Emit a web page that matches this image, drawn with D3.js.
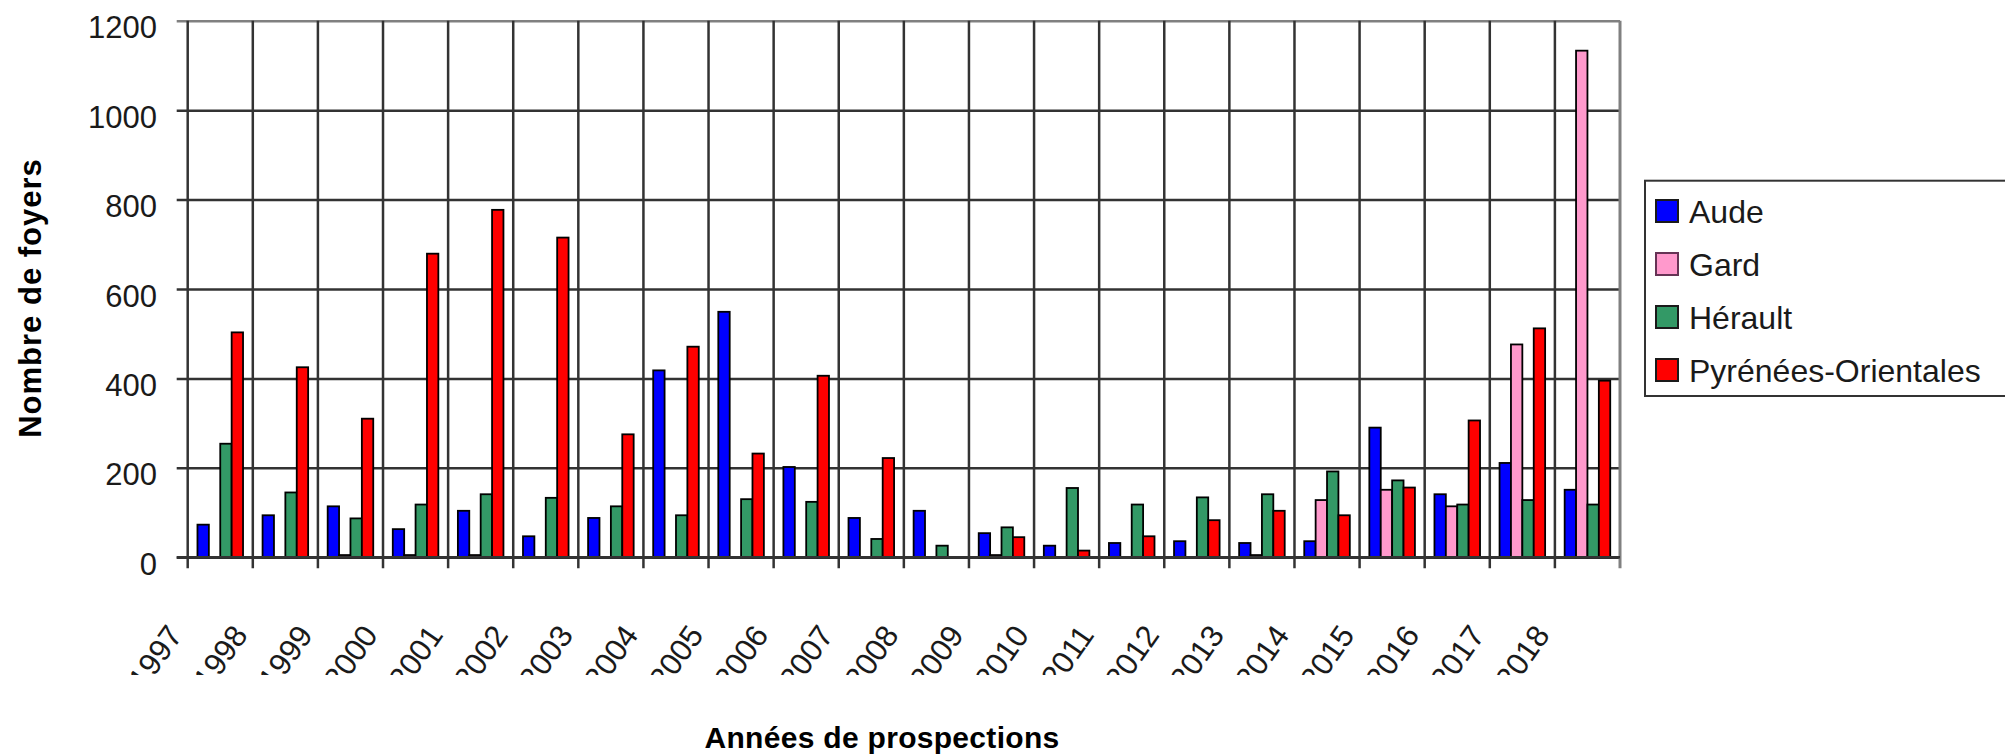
<!DOCTYPE html>
<html>
<head>
<meta charset="utf-8">
<script src="https://cdn.jsdelivr.net/npm/d3@7"></script>
<style>
    body { margin: 0; background: #ffffff; }
    svg { display: block; font-family: 'Liberation Sans', Arial, sans-serif; }
</style>
</head>
<body>
<svg id="chart" width="2005" height="755"></svg>
<script>
const years = ['1997', '1998', '1999', '2000', '2001', '2002', '2003', '2004', '2005', '2006', '2007',
    '2008', '2009', '2010', '2011', '2012', '2013', '2014', '2015', '2016', '2017', '2018'];
const seriesNames = ['Aude', 'Gard', 'Hérault', 'Pyrénées-Orientales'];
const aude = [73, 94, 114, 63, 104, 47, 88, 418, 549, 202, 88, 104, 54, 26, 32, 36, 32, 36, 290, 141, 211, 151];
const gard = [0, 0, 5, 5, 5, 0, 0, 0, 0, 0, 0, 0, 5, 0, 0, 0, 5, 128, 151, 114, 476, 1133];
const herault = [254, 145, 87, 118, 141, 133, 114, 94, 130, 124, 41, 26, 67, 155, 118, 134, 141, 192, 172, 118, 128, 118];
const pyreneesOrientales = [503, 425, 310, 679, 777, 715, 275, 471, 232, 406, 222, 0, 45, 15, 47, 83, 104, 94, 156, 306, 512, 395];
const yTicks = [0, 200, 400, 600, 800, 1000, 1200];
const seriesColors = ['#0000ff', '#ff99cc', '#339966', '#ff0000'];
const xTitle = 'Années de prospections';
const yTitle = 'Nombre de foyers';

(function () {
    'use strict';

    let plot = { left: 187.7, right: 1620, top: 20.7, bottom: 557.3 };
    let svg = d3.select('#chart');
    let seriesValues = [aude, gard, herault, pyreneesOrientales];

    let x0 = d3.scaleBand()
        .domain(years)
        .range([plot.left, plot.right])
        .padding(0);
    let bw = x0.bandwidth();
    let x1 = d3.scaleBand()
        .domain(seriesNames)
        .range([bw * 0.15, bw * 0.85])
        .padding(0);
    let y = d3.scaleLinear()
        .domain([0, 1200])
        .range([plot.bottom, plot.top]);
    let color = d3.scaleOrdinal()
        .domain(seriesNames)
        .range(seriesColors);

    // horizontal grid + y labels
    let yAxis = d3.axisLeft(y)
        .tickValues(yTicks)
        .tickFormat(d3.format('d'))
        .tickSize(-(plot.right - plot.left + 11))
        .tickPadding(19.7);
    let yg = svg.append('g')
        .attr('transform', 'translate(' + (plot.left - 11) + ',0)')
        .call(yAxis);
    yg.select('.domain').remove();
    yg.selectAll('.tick line')
        .attr('stroke', function (d) { return d == 1200 ? '#808080' : '#333333'; })
        .attr('stroke-width', 2.5);
    yg.selectAll('.tick text')
        .attr('dy', '0.55em')
        .style('font-size', '31px')
        .style('fill', '#1a1a1a');

    // vertical grid lines at the group edges
    svg.append('g')
        .selectAll('line')
        .data(years)
        .enter()
        .append('line')
        .attr('x1', function (d) { return x0(d); })
        .attr('x2', function (d) { return x0(d); })
        .attr('y1', plot.top)
        .attr('y2', plot.bottom + 11)
        .attr('stroke', '#333333')
        .attr('stroke-width', 2.5);
    svg.append('line')
        .attr('x1', plot.right)
        .attr('x2', plot.right)
        .attr('y1', plot.top)
        .attr('y2', plot.bottom + 11)
        .attr('stroke', '#808080')
        .attr('stroke-width', 3);

    // bars
    let groups = svg.append('g')
        .selectAll('g')
        .data(years)
        .enter()
        .append('g')
        .attr('transform', function (d) { return 'translate(' + x0(d) + ',0)'; });

    groups.selectAll('rect')
        .data(function (d, i) {
            return seriesNames.map(function (name, j) {
                return { name: name, value: seriesValues[j][i] };
            }).filter(function (e) { return e.value > 0; });
        })
        .enter()
        .append('rect')
        .attr('x', function (d) { return x1(d.name); })
        .attr('y', function (d) { return y(d.value); })
        .attr('width', x1.bandwidth())
        .attr('height', function (d) { return y(0) - y(d.value); })
        .style('fill', function (d) { return color(d.name); })
        .style('stroke', '#000000')
        .style('stroke-width', 1.8);

    svg.append('line')
        .attr('x1', plot.left - 11)
        .attr('x2', plot.right)
        .attr('y1', y(0))
        .attr('y2', y(0))
        .attr('stroke', '#333333')
        .attr('stroke-width', 2.5);

    // x labels, first digit cut off at the bottom like the original
    svg.append('clipPath')
        .attr('id', 'xlab-clip')
        .append('rect')
        .attr('x', 0)
        .attr('y', 600)
        .attr('width', 2005)
        .attr('height', 75);

    svg.append('g')
        .attr('clip-path', 'url(#xlab-clip)')
        .selectAll('text')
        .data(years)
        .enter()
        .append('text')
        .attr('transform', function (d) {
            return 'translate(' + (x0(d) - 4) + ',635) rotate(-55)';
        })
        .attr('text-anchor', 'end')
        .style('font-size', '31px')
        .style('fill', '#1a1a1a')
        .text(function (d) { return d; });

    // axis titles
    svg.append('text')
        .attr('x', 882)
        .attr('y', 748)
        .attr('text-anchor', 'middle')
        .style('font-size', '30px')
        .style('font-weight', 'bold')
        .style('letter-spacing', '0.3px')
        .text(xTitle);

    svg.append('text')
        .attr('transform', 'translate(41,298) rotate(-90)')
        .attr('text-anchor', 'middle')
        .style('font-size', '31px')
        .style('font-weight', 'bold')
        .style('letter-spacing', '1px')
        .text(yTitle);

    // legend
    let legend = svg.append('g');
    legend.append('rect')
        .attr('x', 1645)
        .attr('y', 180.7)
        .attr('width', 400)
        .attr('height', 215.3)
        .style('fill', '#ffffff')
        .style('stroke', '#333333')
        .style('stroke-width', 2);

    let items = legend.selectAll('g.item')
        .data(seriesNames)
        .enter()
        .append('g')
        .attr('class', 'item')
        .attr('transform', function (d, i) { return 'translate(1656,' + (200 + i * 53) + ')'; });
    items.append('rect')
        .attr('width', 22)
        .attr('height', 22)
        .style('fill', function (d) { return color(d); })
        .style('stroke', function (d) { return d == 'Gard' ? '#663355' : '#1a1a1a'; })
        .style('stroke-width', 2);
    items.append('text')
        .attr('x', 33)
        .attr('y', 23)
        .style('font-size', '32px')
        .style('fill', '#1a1a1a')
        .text(function (d) { return d; });
})();
</script>
</body>
</html>
